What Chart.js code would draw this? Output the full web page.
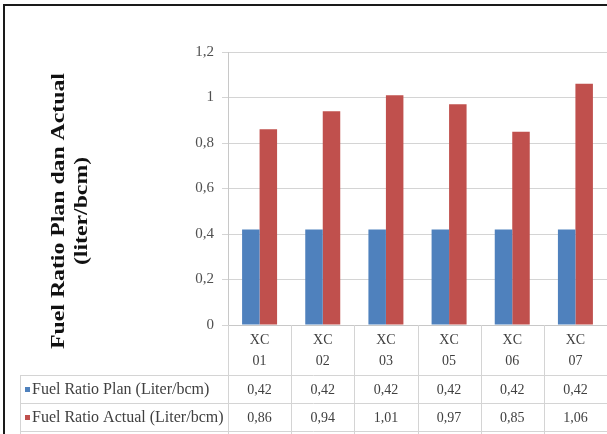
<!DOCTYPE html>
<html>
<head>
<meta charset="utf-8">
<script src="https://cdn.jsdelivr.net/npm/chart.js@4.4.1/dist/chart.umd.min.js"></script>
<style>
  html, body { margin: 0; padding: 0; background: #fff; overflow: hidden; }
  #wrap { position: relative; width: 607px; height: 434px; }
  #frame { position: absolute; left: 3px; top: 4px; width: 700px; height: 600px;
           border-left: 2px solid #1a1a1a; border-top: 2px solid #1a1a1a; pointer-events: none; }
  canvas { position: absolute; left: 0; top: 0; }
</style>
</head>
<body>
<div id="wrap">
  <canvas id="chart" width="607" height="434"></canvas>
  <div id="frame"></div>
</div>
<script>
// Units (unit names) on the x axis, two-line labels
const categories = [['XC', '01'], ['XC', '02'], ['XC', '03'], ['XC', '05'], ['XC', '06'], ['XC', '07']];
// Fuel ratio in liter per bcm
const planValues = [0.42, 0.42, 0.42, 0.42, 0.42, 0.42];
const actualValues = [0.86, 0.94, 1.01, 0.97, 0.85, 1.06];
const seriesNames = ['Fuel Ratio Plan (Liter/bcm)', 'Fuel Ratio Actual (Liter/bcm)'];
const yTickLabels = ['0', '0,2', '0,4', '0,6', '0,8', '1', '1,2'];
const yTitleLines = ['Fuel Ratio Plan dan Actual', '(liter/bcm)'];

const BLUE = '#4F81BD';
const RED = '#C0504D';
const SERIF = '"Liberation Serif", "Times New Roman", serif';
const LINE = '#d4d4d4';

const fmt = v => v.toFixed(2).replace('.', ',');

// Rotated, slightly stretched axis title
const axisTitle = {
  id: 'axisTitle',
  afterDraw(chart) {
    const ctx = chart.ctx;
    ctx.save();
    ctx.font = 'bold 19px ' + SERIF;
    ctx.fillStyle = '#111';
    ctx.textAlign = 'center';
    ctx.textBaseline = 'middle';
    const xs = [59, 82];
    yTitleLines.forEach((t, i) => {
      ctx.save();
      ctx.translate(xs[i], 211);
      ctx.rotate(-Math.PI / 2);
      ctx.scale(1.25, 1);
      ctx.fillText(t, 0, 0);
      ctx.restore();
    });
    ctx.restore();
  }
};

// Data table under the plot: cell borders, legend keys and values
const dataTable = {
  id: 'dataTable',
  afterDraw(chart) {
    const ctx = chart.ctx;
    const xs = chart.scales.x;
    const area = chart.chartArea;
    const n = categories.length;
    const step = (xs.right - xs.left) / n;
    const rowTops = [375, 403, 431];
    const tableLeft = 20;
    const W = chart.width;
    ctx.save();
    ctx.strokeStyle = LINE;
    ctx.lineWidth = 1;
    ctx.beginPath();
    for (let i = 0; i <= n; i++) {
      const x = Math.round(xs.left + i * step) + 0.5;
      ctx.moveTo(x, area.bottom);
      ctx.lineTo(x, chart.height);
    }
    rowTops.forEach(y => {
      ctx.moveTo(tableLeft, y + 0.5);
      ctx.lineTo(W, y + 0.5);
    });
    ctx.moveTo(tableLeft + 0.5, rowTops[0]);
    ctx.lineTo(tableLeft + 0.5, chart.height);
    ctx.stroke();

    const rows = [planValues, actualValues];
    const colors = [BLUE, RED];
    rows.forEach((vals, r) => {
      const cy = (rowTops[r] + rowTops[r + 1]) / 2 + 1;
      ctx.fillStyle = colors[r];
      ctx.fillRect(25, Math.round(cy) - 3, 5, 5);
      ctx.fillStyle = '#404040';
      ctx.font = '16px ' + SERIF;
      ctx.textAlign = 'left';
      ctx.textBaseline = 'middle';
      ctx.fillText(seriesNames[r], 32, cy);
      ctx.font = '14px ' + SERIF;
      ctx.textAlign = 'center';
      vals.forEach((v, i) => {
        ctx.fillText(fmt(v), xs.getPixelForValue(i), cy);
      });
    });
    ctx.restore();
  }
};

new Chart(document.getElementById('chart'), {
  type: 'bar',
  data: {
    labels: categories,
    datasets: [
      { label: seriesNames[0], data: planValues, backgroundColor: BLUE,
        categoryPercentage: 0.554, barPercentage: 1.0 },
      { label: seriesNames[1], data: actualValues, backgroundColor: RED,
        categoryPercentage: 0.554, barPercentage: 1.0 }
    ]
  },
  options: {
    responsive: false,
    animation: false,
    devicePixelRatio: 1,
    layout: { padding: { top: 52, right: 0, bottom: 0, left: 0 } },
    plugins: { legend: { display: false }, tooltip: { enabled: false }, title: { display: false } },
    scales: {
      x: {
        grid: { display: false, drawTicks: false },
        border: { display: true, color: '#c8c8c8', width: 1 },
        ticks: {
          color: '#404040',
          font: { family: SERIF, size: 14, lineHeight: 1.5 },
          padding: 5,
          maxRotation: 0,
          autoSkip: false
        },
        afterFit(scale) { scale.height = 109; }
      },
      y: {
        min: 0,
        max: 1.2,
        grid: { color: LINE, lineWidth: 1, tickLength: 6, drawTicks: true },
        border: { display: true, color: '#c8c8c8', width: 1 },
        ticks: {
          stepSize: 0.2,
          color: '#505050',
          padding: 8,
          font: { family: SERIF, size: 15 },
          callback: (value, index) => yTickLabels[index]
        },
        afterFit(scale) { scale.width = 228; }
      }
    }
  },
  plugins: [axisTitle, dataTable]
});
</script>
</body>
</html>
